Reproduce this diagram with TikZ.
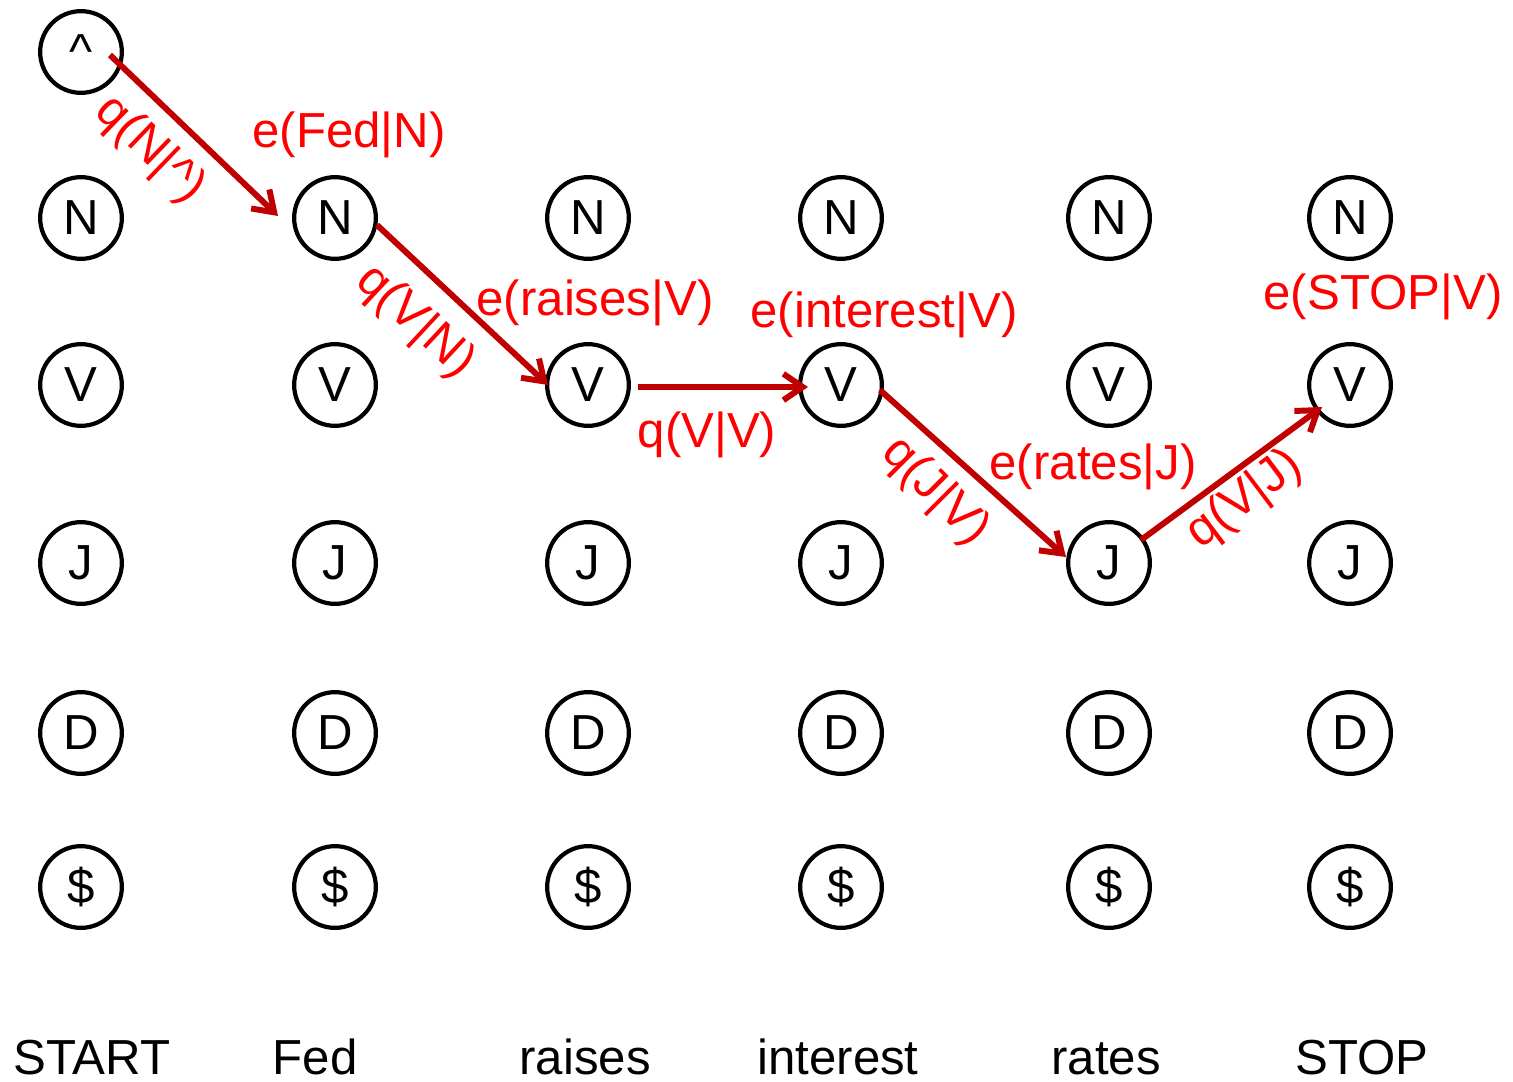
\documentclass[tikz,border=0pt]{standalone}
\usepackage{fontspec}
\setmainfont{Liberation Sans}
\usetikzlibrary{arrows.meta}
\definecolor{pathred}{HTML}{C00000}
\definecolor{labelred}{HTML}{FF0000}

\begin{document}
\begin{tikzpicture}[x=0.02cm, y=-0.02cm,
    state/.style={draw, circle, line width=2.4pt, minimum size=46.5pt, inner sep=0pt, font=\fontsize{28}{30}\selectfont},
    hop/.style={draw=pathred, line width=3.4pt, -{Straight Barb[length=11pt,width=15pt]}},
    prob/.style={text=labelred, inner sep=0pt, font=\fontsize{28}{30}\selectfont},
    word/.style={anchor=base, inner sep=0pt, text depth=0pt, font=\fontsize{28}{30}\selectfont}]
  \useasboundingbox (0, 0) rectangle (1513, 1081);
  % tag lattice
  \node[state] (hat) at (81, 52) {\textasciicircum};
  \foreach \w/\x in {start/81, fed/335, raises/588, interest/841, rates/1109, stop/1350}
    \foreach \t/\y/\txt in {N/218/N, V/385/V, J/563/J, D/733/D, S/887/\$}
      \node[state] (\w-\t) at (\x, \y) {\txt};
  % words
  \node[word] (w-start) at (92, 1074) {START};
  \node[word] (w-fed) at (315, 1074) {Fed};
  \node[word] (w-raises) at (585, 1074) {raises};
  \node[word] (w-interest) at (838, 1074) {interest};
  \node[word] (w-rates) at (1106, 1074) {rates};
  \node[word] (w-stop) at (1362, 1074) {STOP};
  % best path
  \draw[hop] ([shift={(29,3)}]hat.center) -- ([shift={(-57,-2)}]fed-N.center);
  \draw[hop] ([shift={(42,7)}]fed-N.center) -- ([shift={(-40,0)}]raises-V.center);
  \draw[hop] ([shift={(50,2)}]raises-V.center) -- ([shift={(-33,2)}]interest-V.center);
  \draw[hop] ([shift={(39,5)}]interest-V.center) -- ([shift={(-43,-6)}]rates-J.center);
  \draw[hop] ([shift={(32,-23)}]rates-J.center) -- ([shift={(-28,22)}]stop-V.center);
  % probabilities
  \node[prob, rotate=-44] (q-N-hat) at (150, 150) {q(N|\textasciicircum)};
  \node[prob] (e-fed) at (349, 135) {e(Fed|N)};
  \node[prob, rotate=-43] (q-V-N) at (415, 322) {q(V|N)};
  \node[prob] (e-raises) at (595, 303) {e(raises|V)};
  \node[prob] (q-V-V) at (707, 435) {q(V|V)};
  \node[prob] (e-interest) at (884, 315) {e(interest|V)};
  \node[prob, rotate=-45] (q-J-V) at (935, 492) {q(J|V)};
  \node[prob] (e-rates) at (1093, 467) {e(rates|J)};
  \node[prob, rotate=37] (q-V-J) at (1245, 500) {q(V|J)};
  \node[prob] (e-stop) at (1383, 297) {e(STOP|V)};
\end{tikzpicture}
\end{document}
